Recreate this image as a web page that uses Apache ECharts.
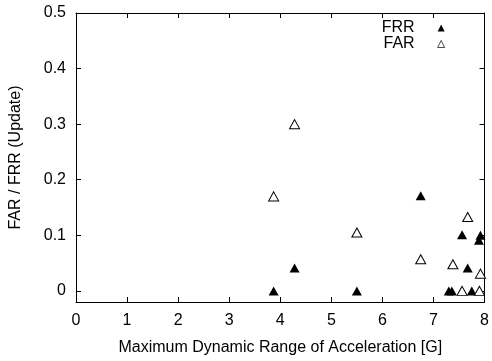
<!DOCTYPE html>
<html><head><meta charset="utf-8">
<script src="https://cdn.jsdelivr.net/npm/echarts@6/dist/echarts.min.js"></script>
<style>html,body{margin:0;padding:0;background:#fff}#c{width:492px;height:361px}</style>
</head><body><div id="c"></div>
<script>
const xTicks = [0,1,2,3,4,5,6,7,8];
const yTicks = [0,0.1,0.2,0.3,0.4,0.5];
const frrX = [3.87, 4.28, 5.5, 6.75, 7.3, 7.36, 7.56, 7.67, 7.75, 7.92, 7.89];
const frrY = [0, 0.041, 0, 0.171, 0, 0, 0.101, 0.041, 0, 0.1, 0.091];
const farX = [3.87, 4.28, 5.5, 6.75, 7.38, 7.67, 7.56, 7.92, 7.9];
const farY = [0.17, 0.3, 0.105, 0.057, 0.048, 0.133, 0, 0.031, 0];
const seriesNames = ['FRR', 'FAR'];
const font = 'Liberation Sans, Arial, Helvetica, sans-serif';

const chart = echarts.init(document.getElementById('c'), null, {renderer:'canvas'});
const axBase = {
  axisLine:{show:true, onZero:false, lineStyle:{color:'#000', width:1}},
  axisTick:{show:true, inside:true, length:5, lineStyle:{color:'#000'}},
  splitLine:{show:false}
};
chart.setOption({
  animation:false,
  backgroundColor:'#fff',
  grid:{left:74, right:4, top:13, bottom:57, containLabel:false},
  legend:{
    orient:'vertical', align:'right', right:42, top:15, itemGap:0,
    itemWidth:7, itemHeight:7,
    textStyle:{fontFamily:font, fontSize:16, lineHeight:15, color:'#000', padding:[0,18,0,0]},
    data:[{name:seriesNames[0]}, {name:seriesNames[1], itemStyle:{borderWidth:0.7}}]
  },
  xAxis:[
    Object.assign({type:'value', min:xTicks[0], max:xTicks[xTicks.length-1], interval:1, position:'bottom',
      name:'Maximum Dynamic Range of Acceleration [G]', nameLocation:'middle', nameGap:38,
      nameTextStyle:{fontFamily:font, fontSize:16, color:'#000'},
      axisLabel:{fontFamily:font, fontSize:16, color:'#000', margin:11}}, axBase),
    Object.assign({type:'value', min:0, max:8, interval:1, position:'top', axisLabel:{show:false}}, axBase)
  ],
  yAxis:[
    Object.assign({type:'value', min:-0.02, max:0.5, position:'left',
      name:'FAR / FRR (Update)', nameLocation:'middle', nameGap:52,
      nameTextStyle:{fontFamily:font, fontSize:16, color:'#000'},
      axisLabel:{fontFamily:font, fontSize:16, color:'#000', margin:10,
        customValues:yTicks, formatter:v=>String(Math.round(v*10)/10)},
      axisTick:{show:true, inside:true, length:5, lineStyle:{color:'#000'}, customValues:yTicks}}, {axisLine:axBase.axisLine, splitLine:{show:false}}),
    Object.assign({type:'value', min:-0.02, max:0.5, position:'right', axisLabel:{show:false},
      axisTick:{show:true, inside:true, length:5, lineStyle:{color:'#000'}, customValues:yTicks}}, {axisLine:axBase.axisLine, splitLine:{show:false}})
  ],
  series:[
    {name:seriesNames[0], type:'scatter', symbol:'triangle', symbolSize:[10,9],
      itemStyle:{color:'#000', opacity:1},
      data:frrX.map((x,i)=>[x,frrY[i]])},
    {name:seriesNames[1], type:'scatter', symbol:'triangle', symbolSize:[10,9],
      itemStyle:{color:'#fff', borderColor:'#000', borderWidth:1, opacity:1},
      data:farX.map((x,i)=>[x,farY[i]])}
  ]
});
</script></body></html>
